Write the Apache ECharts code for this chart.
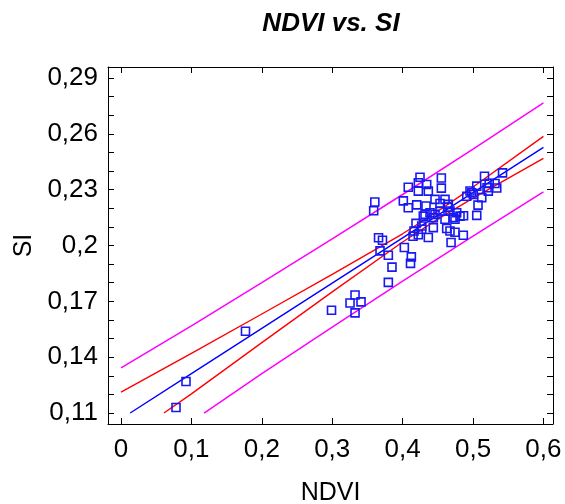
<!DOCTYPE html>
<html>
<head>
<meta charset="utf-8">
<script src="https://cdn.jsdelivr.net/npm/echarts@6/dist/echarts.min.js"></script>
<style>
html,body{margin:0;padding:0;background:#fff;}
#chart{width:565px;height:504px;}
</style>
</head>
<body>
<div id="chart"></div>
<script>
// Observed points (NDVI, SI)
const ndvi = [0.0781,0.0923,0.1768,0.2990,0.3253,0.3324,0.3409,0.3324,0.3797,0.3849,
  0.3679,0.3797,0.3658,0.3714,0.4024,0.4124,0.4112,0.3605,0.3589,0.4010,
  0.4080,0.4080,0.4200,0.4247,0.4223,0.4223,0.4342,0.4365,0.4332,0.4550,
  0.4550,0.4460,0.4531,0.4602,0.4649,0.4318,0.4389,0.4460,0.4531,0.4673,
  0.4768,0.4294,0.4436,0.4602,0.4744,0.4815,0.4865,0.4720,0.4190,0.4271,
  0.4271,0.4436,0.4162,0.4223,0.4148,0.4365,0.4626,0.4673,0.4744,0.4862,
  0.4688,0.4911,0.4957,0.5004,0.5053,0.5124,0.5071,0.5053,0.5163,0.5199,
  0.5230,0.5312,0.5337,0.5419,0.5217,0.4982,0.4638];
const si = [0.1130,0.1269,0.1539,0.1652,0.1691,0.1734,0.1697,0.1638,0.1802,0.1884,
  0.1971,0.1948,0.2042,0.2028,0.1989,0.1939,0.1904,0.2234,0.2187,0.2240,
  0.2313,0.2203,0.2218,0.2367,0.2337,0.2292,0.2328,0.2292,0.2212,0.2363,
  0.2308,0.2248,0.2226,0.2248,0.2221,0.2167,0.2176,0.2167,0.2185,0.2185,
  0.2176,0.2158,0.2150,0.2141,0.2141,0.2158,0.2160,0.2150,0.2119,0.2105,
  0.2087,0.2096,0.2078,0.2058,0.2050,0.2043,0.2091,0.2078,0.2071,0.2055,
  0.2016,0.2265,0.2293,0.2274,0.2319,0.2257,0.2217,0.2162,0.2372,0.2310,
  0.2334,0.2333,0.2309,0.2390,0.2292,0.2283,0.2206];

// Fitted line
const fitX = [0.013,0.1,0.2,0.3,0.4,0.5,0.6];
const fitY = [0.110,0.1312,0.1555,0.1798,0.2041,0.2284,0.2527];
// Confidence limits
const confUpX = [0,0.1,0.2,0.3,0.4,0.45,0.5,0.6];
const confUpY = [0.1212,0.1421,0.1632,0.1845,0.2063,0.2184,0.2314,0.2586];
const confLoX = [0.061,0.1,0.2,0.3,0.4,0.45,0.5,0.6];
const confLoY = [0.110,0.1203,0.1478,0.1751,0.2019,0.2142,0.2254,0.2468];
// Prediction limits
const predUpX = [0,0.1,0.2,0.3,0.4,0.5,0.6];
const predUpY = [0.1342,0.1568,0.1800,0.2035,0.2274,0.2518,0.2766];
const predLoX = [0.118,0.2,0.3,0.4,0.5,0.6];
const predLoY = [0.110,0.1311,0.1561,0.1808,0.2050,0.2288];

// Ticks and labels
const xTicks = [0,0.1,0.2,0.3,0.4,0.5,0.6];
const yTicks = [0.11,0.12,0.13,0.14,0.15,0.16,0.17,0.18,0.19,0.20,0.21,0.22,0.23,0.24,0.25,0.26,0.27,0.28,0.29];
const yLabelValues = [0.11,0.14,0.17,0.20,0.23,0.26,0.29];
const yTickLabels = ['0,11','0,14','0,17','0,2','0,23','0,26','0,29'];
// Axis extents (frame slightly beyond outer ticks)
const xRange = [-0.0185, 0.6136];
const yRange = [0.1041, 0.2959];

const zip = (a,b) => a.map((v,i) => [v,b[i]]);
const FONT = "'Liberation Sans', Arial, sans-serif";

const chart = echarts.init(document.getElementById('chart'), null, {renderer:'canvas'});

function lineSeries(xs, ys, color, w){
  return {type:'line', data:zip(xs,ys), showSymbol:false,
    symbol:'none', lineStyle:{color:color, width:w}, silent:true, z:2};
}

const lineBlack = {show:true, onZero:false, lineStyle:{color:'#000', width:1}};
const tick = vals => ({show:true, inside:true, length:6, customValues:vals, lineStyle:{color:'#000', width:1}});

chart.setOption({
  animation:false,
  backgroundColor:'#fff',
  title:{text:'NDVI vs. SI', left:326, top:6, textAlign:'center',
    textStyle:{fontFamily:FONT, fontSize:26, fontWeight:'bold', fontStyle:'italic', color:'#000'}},
  grid:{left:108, right:12, top:67, bottom:80, containLabel:false, outerBoundsMode:'none'},
  xAxis:[
    {type:'value', position:'bottom', min:xRange[0], max:xRange[1],
      axisLine:lineBlack, axisTick:tick(xTicks), splitLine:{show:false},
      axisLabel:{customValues:xTicks, margin:13, fontFamily:FONT, fontSize:26, color:'#000',
        formatter:v => String(+(+v).toFixed(1)).replace('.', ',')},
      name:'NDVI', nameLocation:'middle', nameGap:57,
      nameTextStyle:{fontFamily:FONT, fontSize:25, color:'#000'}},
    {type:'value', position:'top', min:xRange[0], max:xRange[1],
      axisLine:lineBlack, axisTick:tick(xTicks), axisLabel:{show:false}, splitLine:{show:false}}
  ],
  yAxis:[
    {type:'value', position:'left', min:yRange[0], max:yRange[1],
      axisLine:lineBlack, axisTick:tick(yTicks), splitLine:{show:false},
      axisLabel:{customValues:yLabelValues, margin:10, fontFamily:FONT, fontSize:26, color:'#000',
        formatter:v => { const i = yLabelValues.findIndex(t => Math.abs(t - v) < 1e-6); return i >= 0 ? yTickLabels[i] : ''; }},
      name:'SI', nameLocation:'middle', nameGap:63, nameRotate:90,
      nameTextStyle:{fontFamily:FONT, fontSize:25, color:'#000'}},
    {type:'value', position:'right', min:yRange[0], max:yRange[1],
      axisLine:lineBlack, axisTick:tick(yTicks), axisLabel:{show:false}, splitLine:{show:false}}
  ],
  series:[
    lineSeries(predUpX, predUpY, '#ff00ff', 1.5),
    lineSeries(predLoX, predLoY, '#ff00ff', 1.5),
    lineSeries(confUpX, confUpY, '#ff0000', 1.4),
    lineSeries(confLoX, confLoY, '#ff0000', 1.4),
    lineSeries(fitX, fitY, '#0000ff', 1.4),
    {type:'scatter', data:zip(ndvi, si), symbol:'rect', symbolSize:8,
      itemStyle:{color:'rgba(0,0,0,0)', borderColor:'#1818f0', borderWidth:1.6, opacity:1}, z:3}
  ]
});
</script>
</body>
</html>
